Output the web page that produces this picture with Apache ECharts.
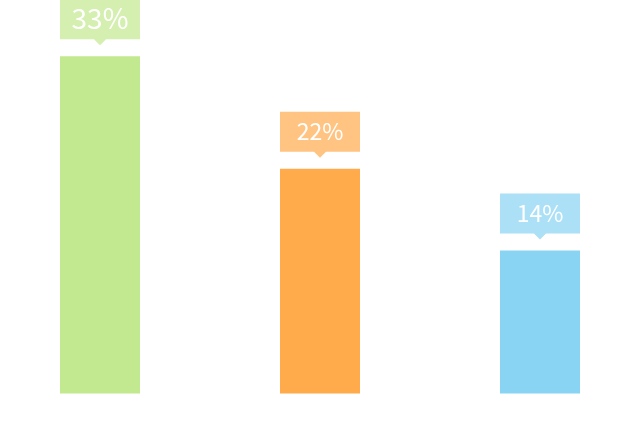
<!DOCTYPE html>
<html>
<head>
<meta charset="utf-8">
<script src="https://cdn.jsdelivr.net/npm/echarts@6/dist/echarts.min.js"></script>
<style>html,body{margin:0;padding:0;background:#fff;}#c{width:630px;height:438px;}</style>
</head>
<body>
<div id="c"></div>
<script>
const categories = ['A', 'B', 'C'];
const values = [33, 22, 14];
const barColors = ['#c2e98f', '#ffab4c', '#89d3f3'];
const labelColors = ['#d4efb0', '#ffc481', '#ace0f6'];
const labelFontSizes = [28, 23, 23];

const chart = echarts.init(document.getElementById('c'), null, {renderer: 'canvas'});
const calloutPath = 'path://M0,0 L80,0 L80,40 L46,40 L40,46 L34,40 L0,40 Z';

chart.setOption({
  backgroundColor: '#ffffff',
  animation: false,
  grid: {left: -10, width: 660, top: 0, bottom: 44.5, containLabel: false, outerBoundsMode: 'none'},
  xAxis: {
    type: 'category', data: categories,
    axisLine: {show: false}, axisTick: {show: false}, axisLabel: {show: false}, splitLine: {show: false}
  },
  yAxis: {
    type: 'value', min: 0, max: 38.5,
    axisLine: {show: false}, axisTick: {show: false}, axisLabel: {show: false}, splitLine: {show: false}
  },
  series: [{
    type: 'bar',
    barWidth: 80,
    data: values.map((v, i) => ({value: v, itemStyle: {color: barColors[i]}})),
    markPoint: {
      symbol: calloutPath,
      symbolSize: [80, 46],
      symbolOffset: [0, -34],
      label: {
        show: true,
        position: 'inside',
        offset: [0, -3.5],
        color: '#ffffff',
        fontFamily: 'Noto Sans CJK SC',
        fontSize: 23,
        formatter: p => p.value + '%'
      },
      data: values.map((v, i) => ({
        coord: [categories[i], v],
        value: v,
        itemStyle: {color: labelColors[i]},
        label: {fontSize: labelFontSizes[i]}
      }))
    }
  }]
});
</script>
</body>
</html>
